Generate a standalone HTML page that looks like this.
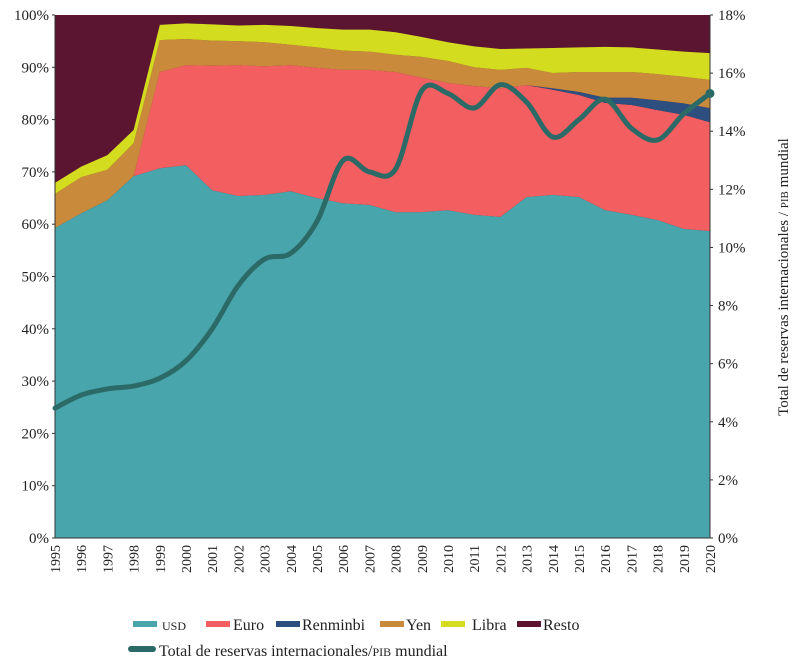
<!DOCTYPE html>
<html><head><meta charset="utf-8"><style>
body{margin:0;background:#fff;width:800px;height:664px;overflow:hidden;font-family:"Liberation Serif",serif}
svg text{font-family:"Liberation Serif",serif;fill:#222}
</style></head><body>
<svg id="chart" width="800" height="664"></svg>
<script>
const years=[1995,1996,1997,1998,1999,2000,2001,2002,2003,2004,2005,2006,2007,2008,2009,2010,2011,2012,2013,2014,2015,2016,2017,2018,2019,2020];
const usd=[59.3,62.1,64.6,69.2,70.7,71.3,66.5,65.4,65.6,66.3,65.0,64.0,63.7,62.3,62.3,62.7,61.8,61.4,65.2,65.6,65.2,62.7,61.8,60.8,59.1,58.7];
const euro=[0,0,0,0,18.4,19.1,23.8,25.0,24.6,24.1,24.9,25.5,25.8,26.8,25.7,24.3,24.6,24.6,21.4,20.1,19.5,20.5,21.0,21.0,21.8,20.8];
const renminbi=[0,0,0,0,0,0,0,0,0,0,0,0,0,0,0,0,0,0,0,0.3,0.6,1.0,1.4,1.9,2.2,2.7];
const yen=[6.5,6.9,5.8,6.3,6.1,5.0,4.8,4.6,4.6,3.9,3.9,3.7,3.5,3.3,4.0,4.2,3.6,3.5,3.3,2.9,3.8,4.9,4.9,5.0,5.1,5.4];
const libra=[2.1,2.0,2.8,2.5,2.9,3.0,3.1,3.0,3.3,3.6,3.7,4.0,4.2,4.3,3.8,3.6,4.0,4.0,3.7,4.8,4.7,4.8,4.7,4.7,4.8,5.1];
const totalRes=[4.47,4.92,5.13,5.23,5.5,6.1,7.2,8.7,9.6,9.8,10.9,13.0,12.6,12.7,15.4,15.3,14.8,15.6,15.0,13.8,14.4,15.1,14.1,13.7,14.6,15.3];
const leftTicks=[0,10,20,30,40,50,60,70,80,90,100];
const rightTicks=[0,2,4,6,8,10,12,14,16,18];

const svg=document.getElementById('chart');const NS='http://www.w3.org/2000/svg';
const X0=55,X1=710,Y0=538,Y1=15;
const x=i=>X0+i*(X1-X0)/(years.length-1);
const yL=v=>Y0-v/100*(Y0-Y1);
const yR=v=>Y0-v/18*(Y0-Y1);
function mk(t,a,p){const e=document.createElementNS(NS,t);for(const k in a)e.setAttribute(k,a[k]);(p||svg).appendChild(e);return e;}
const series=[['usd',usd,'#48a5ac'],['euro',euro,'#f35f60'],['renminbi',renminbi,'#2c4f80'],['yen',yen,'#c98b3b'],['libra',libra,'#d3dc1f']];
const resto=mk('rect',{x:X0,y:Y1,width:X1-X0,height:Y0-Y1,fill:'#5c1531'});


let base=years.map(()=>0);
series.forEach(([n,vals,c])=>{
  const top=base.map((b,i)=>b+vals[i]);
  let d='M'+years.map((_,i)=>x(i)+','+yL(top[i])).join('L');
  for(let i=years.length-1;i>=0;i--)d+='L'+x(i)+','+yL(base[i]);
  const p=mk('path',{d:d+'Z',fill:c});
  
  
  base=top;
});
const ax=mk('path',{d:`M${X0},${Y1}V${Y0}H${X1}V${Y1}`,stroke:'#333',fill:'none','stroke-width':1});


leftTicks.forEach(v=>{const t=mk('text',{x:X0-6,y:yL(v)+5,'text-anchor':'end','font-size':15});t.textContent=v+'%';


mk('line',{x1:X0-3,x2:X0,y1:yL(v),y2:yL(v),stroke:'#333'});});
rightTicks.forEach(v=>{const t=mk('text',{x:X1+8,y:yR(v)+5,'text-anchor':'start','font-size':15});t.textContent=v+'%';


mk('line',{x1:X1,x2:X1+3,y1:yR(v),y2:yR(v),stroke:'#333'});});
years.forEach((yr,i)=>{const t=mk('text',{x:0,y:0,'text-anchor':'end','font-size':14,transform:`translate(${x(i)+5},${Y0+7}) rotate(-90)`});t.textContent=yr;

});
const rt=mk('text',{x:0,y:0,'text-anchor':'middle','font-size':15,transform:'translate(788,277) rotate(-90)'});
rt.innerHTML='Total de reservas internacionales / <tspan font-size="11">PIB</tspan> mundial';


const pts=totalRes.map((v,i)=>[x(i),yR(v)]);
let d='M'+pts[0];
for(let i=0;i<pts.length-1;i++){const p0=pts[Math.max(0,i-1)],p1=pts[i],p2=pts[i+1],p3=pts[Math.min(pts.length-1,i+2)];
d+=`C${p1[0]+(p2[0]-p0[0])/6},${p1[1]+(p2[1]-p0[1])/6} ${p2[0]-(p3[0]-p1[0])/6},${p2[1]-(p3[1]-p1[1])/6} ${p2[0]},${p2[1]}`;}
const ln=mk('path',{d:d,stroke:'#2b6a66',fill:'none','stroke-width':5,'stroke-linecap':'round'});


const last=pts[pts.length-1];mk('circle',{cx:last[0],cy:last[1],r:4.5,fill:'#2b6a66'});
const leg=[['USD','#48a5ac',133,162,true],['Euro','#f35f60',206,233],['Renminbi','#2c4f80',276,302],['Yen','#c98b3b',380,406],['Libra','#d3dc1f',441,472],['Resto','#5c1531',517,543]];
leg.forEach(([n,c,sx,tx,sc])=>{const r=mk('rect',{x:sx,y:621,width:24,height:6,fill:c});


const t=mk('text',{x:tx,y:630,'font-size':sc?12:16});t.textContent=n;

});
const ls=mk('rect',{x:128,y:646,width:28,height:6,rx:3,fill:'#2b6a66'});


const lt=mk('text',{x:159,y:656,'font-size':16});
lt.innerHTML='Total de reservas internacionales/<tspan font-size="12">PIB</tspan> mundial';


</script>
</body></html>
